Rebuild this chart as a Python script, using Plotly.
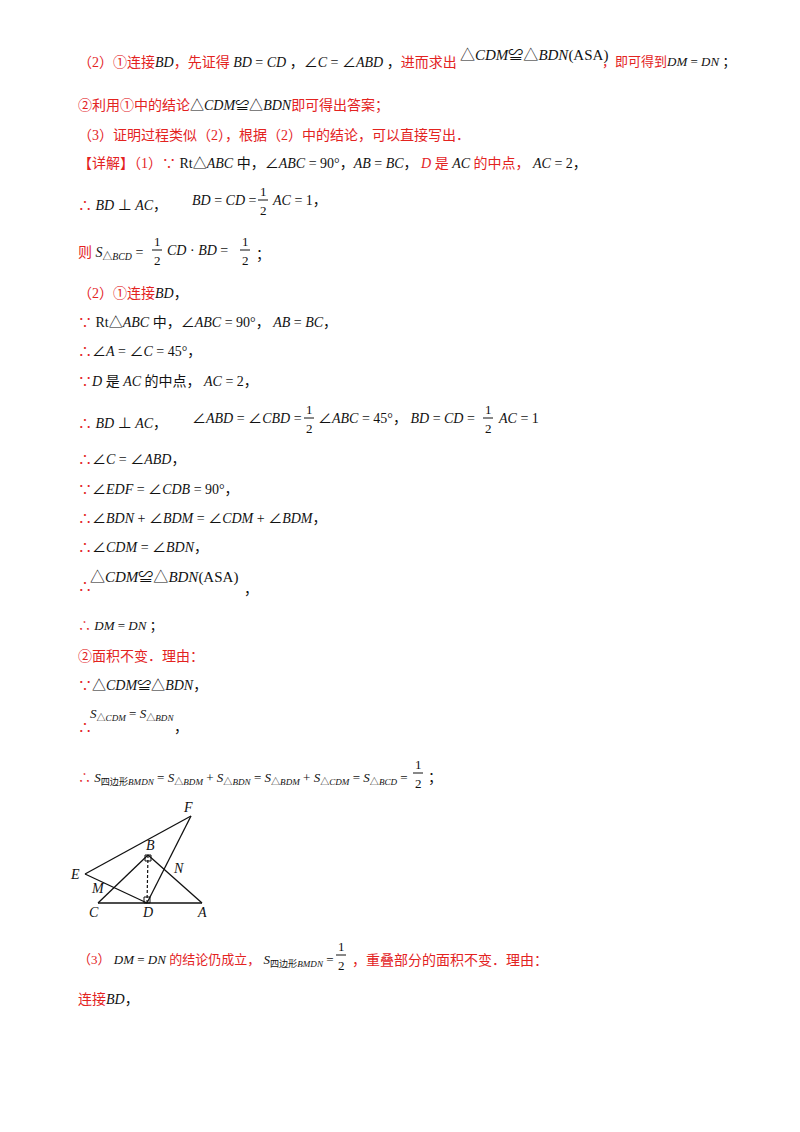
import plotly.graph_objects as go

RED = "#e3231f"
BLK = "#111111"
FONT = "Liberation Serif, Noto Sans CJK SC"

# geometry figure data (page pixel coordinates)
pt_names = ["C", "D", "A", "B", "E", "F", "M", "N"]
pt_x = [98, 147, 202, 148, 85, 191, 110, 166]
pt_y = [903, 903, 903, 855, 874, 816, 888, 868]
seg_solid = [("C", "A"), ("C", "B"), ("B", "A"), ("E", "F"), ("E", "D"), ("D", "F")]
seg_dash = [("B", "D")]
label_dx = {"C": -4, "D": 0, "A": 0, "B": 2, "E": -10, "F": -3, "M": -12, "N": 12}
label_dy = {"C": 9, "D": 9, "A": 9, "B": -10, "E": 0, "F": -9, "M": 0, "N": 0}
P = {n: (x, y) for n, x, y in zip(pt_names, pt_x, pt_y)}

fig = go.Figure()

def r(s):
    return f'<span style="color:{RED}">{s}</span>'

def i(s):
    return f"<i>{s}</i>"

anns = []
def T(x, y, s, size=14, color=BLK):
    anns.append(dict(x=x, y=y, text=s, showarrow=False, xanchor="left", yanchor="middle",
                     font=dict(family=FONT, size=size, color=color)))

shapes = []
def frac(x, y, num="1", den="2", size=13):
    anns.append(dict(x=x, y=y - 9, text=num, showarrow=False, xanchor="center", yanchor="middle",
                     font=dict(family=FONT, size=size, color=BLK)))
    anns.append(dict(x=x, y=y + 10, text=den, showarrow=False, xanchor="center", yanchor="middle",
                     font=dict(family=FONT, size=size, color=BLK)))
    shapes.append(dict(type="line", x0=x - 5, x1=x + 5, y0=y, y1=y, line=dict(color=BLK, width=1)))

T(76, 62, r("（2）①连接") + i("BD") + r("，先证得") + " " + i("BD") + " = " + i("CD") + " ，∠" + i("C") + " = ∠" + i("ABD") + " ，" + r("进而求出"))
T(458, 55, "△" + i("CDM") + "≌△" + i("BDN") + "(ASA)", size=15)
T(600, 62, r("，即可得到") + i("DM") + " = " + i("DN") + " ；", size=13)
T(76, 105, r("②利用①中的结论") + "△" + i("CDM") + "≌△" + i("BDN") + r("即可得出答案；"))
T(76, 135, r("（3）证明过程类似（2），根据（2）中的结论，可以直接写出．"))
T(76, 163, r("【详解】（1）∵") + " Rt△" + i("ABC") + " 中，∠" + i("ABC") + " = 90°，" + i("AB") + " = " + i("BC") + "， " + r(i("D") + " 是 " ) + i("AC") + r(" 的中点，") + " " + i("AC") + " = 2，")
T(76, 205, r("∴") + " " + i("BD") + " ⊥ " + i("AC") + "，")
T(190, 200, i("BD") + " = " + i("CD") + " =")
frac(263, 200)
T(270, 200, i("AC") + " = 1，")
T(76, 253, r("则") + " " + i("S") + "<sub>△" + i("BCD") + "</sub> =")
frac(157, 250)
T(165, 250, i("CD") + " · " + i("BD") + " =")
frac(245, 250)
T(254, 255, "；")
T(76, 293, r("（2）①连接") + i("BD") + "，")
T(76, 322, r("∵") + " Rt△" + i("ABC") + " 中，∠" + i("ABC") + " = 90°， " + i("AB") + " = " + i("BC") + "，")
T(76, 351, r("∴") + "∠" + i("A") + " = ∠" + i("C") + " = 45°，")
T(76, 381, r("∵") + i("D") + " 是 " + i("AC") + " 的中点， " + i("AC") + " = 2，")
T(76, 423, r("∴") + " " + i("BD") + " ⊥ " + i("AC") + "，")
T(190, 418, "∠" + i("ABD") + " = ∠" + i("CBD") + " =")
frac(309, 418)
T(316, 418, "∠" + i("ABC") + " = 45°， " + i("BD") + " = " + i("CD") + " =")
frac(488, 418)
T(496, 418, i("AC") + " = 1")
T(76, 459, r("∴") + "∠" + i("C") + " = ∠" + i("ABD") + "，")
T(76, 489, r("∵") + "∠" + i("EDF") + " = ∠" + i("CDB") + " = 90°，")
T(76, 518, r("∴") + "∠" + i("BDN") + " + ∠" + i("BDM") + " = ∠" + i("CDM") + " + ∠" + i("BDM") + "，")
T(76, 547, r("∴") + "∠" + i("CDM") + " = ∠" + i("BDN") + "，")
T(76, 586, r("∴"))
T(88, 577, "△" + i("CDM") + "≌△" + i("BDN") + "(ASA)", size=15)
T(242, 589, "，")
T(76, 626, r("∴") + " " + i("DM") + " = " + i("DN") + " ；", size=13)
T(76, 656, r("②面积不变．理由："))
T(76, 685, r("∵") + "△" + i("CDM") + "≌△" + i("BDN") + "，")
T(76, 727, r("∴"))
T(88, 714, i("S") + "<sub>△" + i("CDM") + "</sub> = " + i("S") + "<sub>△" + i("BDN") + "</sub>", size=13)
T(172, 727, "，")
T(76, 778, r("∴") + " " + i("S") + "<sub>四边形" + i("BMDN") + "</sub> = " + i("S") + "<sub>△" + i("BDM") + "</sub> + " + i("S") + "<sub>△" + i("BDN") + "</sub> = " + i("S") + "<sub>△" + i("BDM") + "</sub> + " + i("S") + "<sub>△" + i("CDM") + "</sub> = " + i("S") + "<sub>△" + i("BCD") + "</sub> =", size=13)
frac(418, 773)
T(426, 778, "；")
T(76, 960, r("（3）") + " " + i("DM") + " = " + i("DN") + r(" 的结论仍成立，") + " " + i("S") + "<sub>四边形" + i("BMDN") + "</sub> =", size=13)
frac(341, 955)
T(350, 960, r("，重叠部分的面积不变．理由："))
T(76, 999, r("连接") + i("BD") + "，")

# geometry
for a, b in seg_solid:
    fig.add_trace(go.Scatter(x=[P[a][0], P[b][0]], y=[P[a][1], P[b][1]], mode="lines",
                             line=dict(color=BLK, width=1.3), hoverinfo="skip"))
for a, b in seg_dash:
    fig.add_trace(go.Scatter(x=[P[a][0], P[b][0]], y=[P[a][1], P[b][1]], mode="lines",
                             line=dict(color=BLK, width=1.2, dash="3px,2px"), hoverinfo="skip"))
fig.add_trace(go.Scatter(x=[P["B"][0], P["D"][0]], y=[P["B"][1] + 3, P["D"][1] - 3], mode="markers",
                         marker=dict(symbol="square-open", size=6, color=BLK), hoverinfo="skip"))
for n in pt_names:
    anns.append(dict(x=P[n][0] + label_dx[n], y=P[n][1] + label_dy[n], text=i(n), showarrow=False,
                     font=dict(family="Liberation Serif", size=14, color=BLK)))

fig.update_layout(width=800, height=1132, margin=dict(l=0, r=0, t=0, b=0),
                  paper_bgcolor="white", plot_bgcolor="white", showlegend=False,
                  xaxis=dict(range=[8, 808], visible=False, fixedrange=True),
                  yaxis=dict(range=[1140, 8], visible=False, fixedrange=True),
                  annotations=anns, shapes=shapes)
fig.write_html("out.html")
